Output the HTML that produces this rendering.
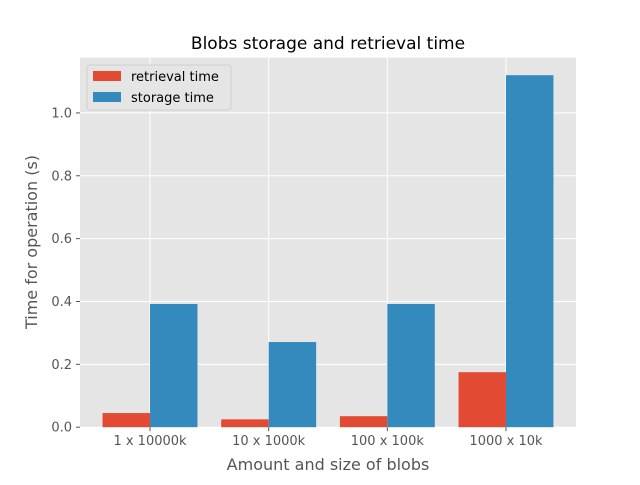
<!DOCTYPE html>
<html><head><meta charset="utf-8"><style>
html,body{margin:0;padding:0;background:#fff;}
svg text{font-family:"DejaVu Sans","Liberation Sans",sans-serif;}
</style></head><body>
<svg id="chart" width="640" height="480" xmlns="http://www.w3.org/2000/svg">
<rect x="0" y="0" width="640" height="480" fill="#fff"/>
<rect x="80" y="57.6" width="496" height="369.6" fill="#E5E5E5"/>
<g id="grid"></g><g id="bars"></g><g id="ticks"></g>
<text x="328" y="49" font-size="17" text-anchor="middle" fill="#000">Blobs storage and retrieval time</text>
<text x="328" y="470" font-size="16" text-anchor="middle" fill="#555">Amount and size of blobs</text>
<text transform="translate(37,242) rotate(-90)" font-size="16" text-anchor="middle" fill="#555">Time for operation (s)</text>
<g>
<rect x="87" y="65" width="144" height="45" rx="3" fill="#E5E5E5" stroke="#ccc" stroke-width="1" opacity="0.9"/>
<rect x="93" y="71" width="28" height="10" fill="#E24A33"/>
<text x="131" y="81" font-size="13" fill="#000">retrieval time</text>
<rect x="93" y="92" width="28" height="10" fill="#348ABD"/>
<text x="131" y="102" font-size="13" fill="#000">storage time</text>
</g>
</svg>
<script>
const categories = ["1 x 10000k","10 x 1000k","100 x 100k","1000 x 10k"];
const retrievalTime = [0.045,0.025,0.035,0.175];
const storageTime = [0.392,0.271,0.392,1.12];
const yTicks = [0,0.2,0.4,0.6,0.8,1.0];
const yTickLabels = ["0.0","0.2","0.4","0.6","0.8","1.0"];

const NS="http://www.w3.org/2000/svg";
const L=80,R=576,T=57.6,B=427.2;
const yMax=Math.max(...storageTime,...retrievalTime)*1.05;
const xMin=-0.59,xMax=categories.length-1+0.59;
function xs(v){return L+(v-xMin)/(xMax-xMin)*(R-L);}
function ys(v){return B-v/yMax*(B-T);}
function mk(tag,attrs,parent){const e=document.createElementNS(NS,tag);for(const k in attrs)e.setAttribute(k,attrs[k]);document.getElementById(parent).appendChild(e);return e;}

yTicks.forEach((t,i)=>{
  const g=mk('line',{x1:L,x2:R,y1:ys(t),y2:ys(t),stroke:'#fff','stroke-width':1},'grid');
  
  
  const tk=mk('line',{x1:L-4,x2:L,y1:ys(t),y2:ys(t),stroke:'#555','stroke-width':1},'ticks');
  
  
  const tx=mk('text',{x:L-8,y:ys(t)+4.5,'font-size':13,'text-anchor':'end',fill:'#555'},'ticks');
  tx.textContent=yTickLabels[i];
  
  
});
categories.forEach((c,i)=>{
  const g=mk('line',{x1:xs(i),x2:xs(i),y1:T,y2:B,stroke:'#fff','stroke-width':1},'grid');
  
  
  const w=xs(0.4)-xs(0);
  const r1=mk('rect',{x:xs(i-0.4),y:ys(retrievalTime[i]),width:w,height:B-ys(retrievalTime[i]),fill:'#E24A33'},'bars');
  
  
  const r2=mk('rect',{x:xs(i),y:ys(storageTime[i]),width:w,height:B-ys(storageTime[i]),fill:'#348ABD'},'bars');
  
  
  const tk=mk('line',{x1:xs(i),x2:xs(i),y1:B,y2:B+4,stroke:'#555','stroke-width':1},'ticks');
  
  
  const tx=mk('text',{x:xs(i),y:B+18,'font-size':13,'text-anchor':'middle',fill:'#555'},'ticks');
  tx.textContent=c;
  
  
});
</script>
</body></html>
